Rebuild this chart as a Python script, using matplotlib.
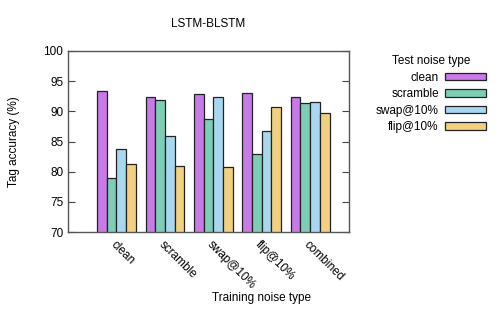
import matplotlib.pyplot as plt
import numpy as np

plt.rcParams['font.family'] = ['Liberation Sans', 'DejaVu Sans']

train = ['clean', 'scramble', 'swap@10%', 'flip@10%', 'combined']
test = ['clean', 'scramble', 'swap@10%', 'flip@10%']
acc_clean = [93.4, 92.4, 92.8, 93.0, 92.4]
acc_scramble = [79.0, 91.8, 88.8, 82.9, 91.3]
acc_swap = [83.7, 85.9, 92.4, 86.8, 91.6]
acc_flip = [81.3, 80.9, 80.7, 90.8, 89.7]
colors = ['#c77ae8', '#7ecdb5', '#a8d8f0', '#f2d080']

fig = plt.figure(figsize=(5.02, 3.14), dpi=100)
ax = fig.add_axes([0.1355, 0.261, 0.5595, 0.5766])

x = np.arange(len(train))
w = 0.2
series = [acc_clean, acc_scramble, acc_swap, acc_flip]
for i, (vals, c) in enumerate(zip(series, colors)):
    ax.bar(x + (i - 1.5) * w, vals, w, color=c, edgecolor='#222222',
           linewidth=0.9, label=test[i])

ax.set_ylim(70, 100)
ax.set_xlim(-1.0, 4.8)
ax.set_yticks(range(70, 101, 5))
ax.set_xticks(x)
ax.set_xticklabels(train, rotation=-45, ha='left', va='top',
                   rotation_mode='anchor', fontsize=8.5)
ax.tick_params(axis='y', direction='in', right=True, length=5,
               labelsize=8.5, color='#444444', width=0.8)
ax.tick_params(axis='x', length=0, pad=5)
for s in ax.spines.values():
    s.set_color('#555555')
    s.set_linewidth(1.0)

ax.set_title('LSTM-BLSTM', fontsize=8.5, pad=17)
ax.set_ylabel('Tag accuracy (%)', fontsize=8.5, labelpad=17)
ax.set_xlabel('Training noise type', fontsize=8.5, labelpad=4)
ax.xaxis.set_label_coords(0.69, -0.33)

leg = ax.legend(title='Test noise type', loc='upper right',
                bbox_to_anchor=(1.526, 1.035), frameon=False,
                markerfirst=False, fontsize=8.5, title_fontsize=8.5,
                handlelength=3.5, handleheight=0.6, labelspacing=0.38,
                handletextpad=0.5, alignment='center')
for t in leg.get_texts():
    t.set_ha('right')

fig.savefig('out.png', dpi=100)
